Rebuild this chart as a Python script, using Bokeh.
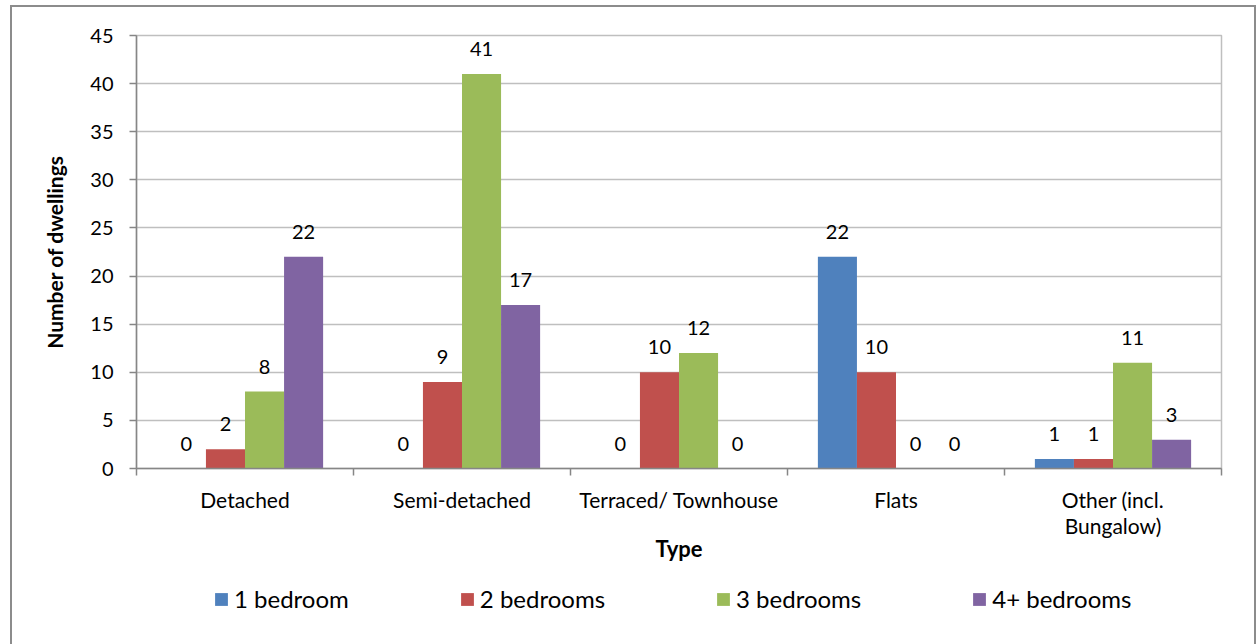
from bokeh.plotting import figure
from bokeh.layouts import column
from bokeh.models import (Range1d, FixedTicker, Legend, LegendItem, ColumnDataSource)
from bokeh.core.properties import value
from bokeh.embed import file_html
from bokeh.resources import INLINE

# Dwelling counts by type and number of bedrooms
categories = ["Detached", "Semi-detached", "Terraced/ Townhouse", "Flats",
              "Other (incl.\nBungalow)"]
series_names = ["1 bedroom", "2 bedrooms", "3 bedrooms", "4+ bedrooms"]
one_bedroom = [0, 0, 0, 22, 1]
two_bedrooms = [2, 9, 10, 10, 1]
three_bedrooms = [8, 41, 12, 0, 11]
four_plus_bedrooms = [22, 17, 0, 0, 3]
y_ticks = [0, 5, 10, 15, 20, 25, 30, 35, 40, 45]

series = [one_bedroom, two_bedrooms, three_bedrooms, four_plus_bedrooms]
colors = ["#4F81BD", "#C0504D", "#9BBB59", "#8064A2"]

FONT = "Lato"
BAR_W = 0.18
offsets = [-1.5 * BAR_W, -0.5 * BAR_W, 0.5 * BAR_W, 1.5 * BAR_W]

p = figure(width=1242, height=571, output_backend="svg", toolbar_location=None,
           x_range=Range1d(0, len(categories)), y_range=Range1d(0, 45),
           min_border_left=124, min_border_right=33, min_border_top=28,
           min_border_bottom=110)
p.background_fill_color = "white"
p.border_fill_color = "white"
p.outline_line_color = "#BFBFBF"
p.outline_line_width = 1.5

centers = [i + 0.5 for i in range(len(categories))]
for vals, col, off in zip(series, colors, offsets):
    xs = [c + off for c in centers]
    src = ColumnDataSource(dict(x=xs, top=vals, label=[str(v) for v in vals]))
    p.vbar(x="x", top="top", width=BAR_W, source=src, fill_color=col,
           line_color=None)
    p.text(x="x", y="top", text="label", source=src, text_align="center",
           text_baseline="alphabetic", y_offset=-25, text_font_size="20px",
           text_font=value(FONT), text_color="#000000")

# y axis
p.yaxis.ticker = FixedTicker(ticks=y_ticks)
p.yaxis.axis_line_color = "#868686"
p.yaxis.axis_line_width = 1.5
p.yaxis.major_tick_line_color = "#868686"
p.yaxis.major_tick_line_width = 1.5
p.yaxis.major_tick_out = 7
p.yaxis.major_tick_in = 0
p.yaxis.minor_tick_line_color = None
p.yaxis.major_label_text_font = FONT
p.yaxis.major_label_text_font_size = "20px"
p.yaxis.major_label_text_color = "#000000"
p.yaxis.major_label_standoff = 16
p.yaxis.axis_label = "Number of dwellings"
p.yaxis.axis_label_text_font = FONT
p.yaxis.axis_label_text_font_style = "bold"
p.yaxis.axis_label_text_font_size = "21px"
p.yaxis.axis_label_text_color = "#000000"
p.yaxis.axis_label_standoff = 20

# x axis: ticks at category boundaries, labels at category centres
p.xaxis.ticker = FixedTicker(ticks=centers,
                             minor_ticks=list(range(len(categories) + 1)))
p.xaxis.major_label_overrides = {c: lab for c, lab in zip(centers, categories)}
p.xaxis.axis_line_color = "#868686"
p.xaxis.axis_line_width = 1.5
p.xaxis.major_tick_line_color = None
p.xaxis.major_tick_out = 0
p.xaxis.minor_tick_line_color = "#868686"
p.xaxis.minor_tick_line_width = 1.5
p.xaxis.minor_tick_out = 7
p.xaxis.minor_tick_in = 0
p.xaxis.major_label_text_font = FONT
p.xaxis.major_label_text_font_size = "21px"
p.xaxis.major_label_text_color = "#000000"
p.xaxis.major_label_text_line_height = 1.05
p.xaxis.major_label_standoff = 11
p.xaxis.axis_label = "Type"
p.xaxis.axis_label_text_font = FONT
p.xaxis.axis_label_text_font_style = "bold"
p.xaxis.axis_label_text_font_size = "22px"
p.xaxis.axis_label_text_color = "#000000"
p.xaxis.axis_label_standoff = -6

p.xgrid.grid_line_color = None
p.ygrid.grid_line_color = "#BFBFBF"
p.ygrid.grid_line_width = 1.5

# legend strip underneath the chart (its frame lines up with the chart's)
lg = figure(width=1242, height=80, output_backend="svg", toolbar_location=None,
            x_axis_type=None, y_axis_type=None,
            x_range=Range1d(0, 1), y_range=Range1d(0, 1),
            min_border=0, min_border_left=0, min_border_right=0,
            min_border_top=0, min_border_bottom=0)
lg.outline_line_color = None
lg.background_fill_color = "white"
lg.border_fill_color = "white"
lg.grid.visible = False
items = []
for name, col in zip(series_names, colors):
    # swatch renderers sit fully outside the visible ranges; only the legend shows them
    r = lg.vbar(x=[-5], bottom=[-6], top=[-5], width=0.1, fill_color=col,
                line_color=None)
    items.append(LegendItem(label=name, renderers=[r]))
legend = Legend(items=items, orientation="horizontal", location=(77, 45),
                padding=0, margin=0, spacing=110, label_standoff=5,
                glyph_width=16, glyph_height=16,
                label_text_font=FONT, label_text_font_size="24px",
                label_text_color="#000000", border_line_color=None,
                background_fill_alpha=0)
lg.add_layout(legend, "center")

# outer chart border
page = column(p, lg, margin=(5, 0, 0, 10), spacing=0,
              styles={"border": "2px solid #8C8C8C", "background": "white"})

open("out.html", "w").write(file_html(page, INLINE))
